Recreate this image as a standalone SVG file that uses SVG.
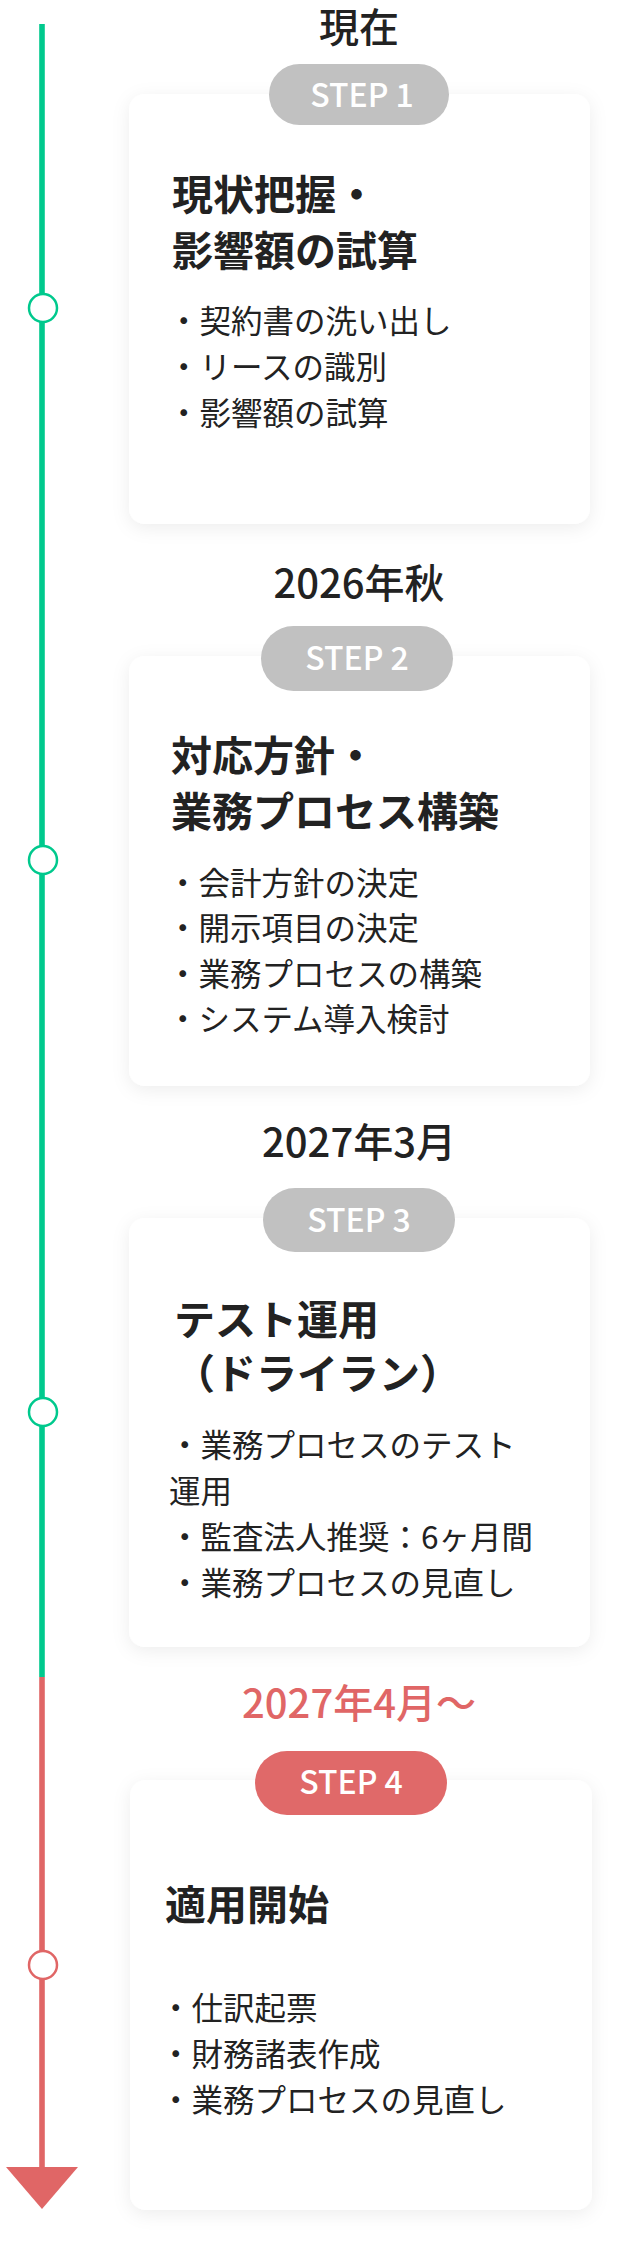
<svg xmlns="http://www.w3.org/2000/svg" width="625" height="2245" viewBox="0 0 625 2245">
<defs>
<filter id="sh" x="-10%" y="-10%" width="120%" height="120%"><feDropShadow dx="0" dy="4" stdDeviation="9" flood-color="#000" flood-opacity="0.07"/></filter>
</defs>
<style>
text{font-family:"Noto Sans CJK JP","Noto Sans",sans-serif;fill:#222}
.date{font-size:40px;font-weight:500;text-anchor:middle}
.pill{font-size:32px;font-weight:500;fill:#fff;text-anchor:middle}
.title{font-size:41px;font-weight:700}
.item{font-size:31.5px}
.card{fill:#fff;filter:url(#sh)}
.dot{fill:#fff;stroke-width:2.5}
</style>
<rect width="625" height="2245" fill="#fff"/>
<g id="connectors">
<line x1="42" y1="24" x2="42" y2="1677" stroke="#00C98D" stroke-width="5.6"/>
<line x1="42" y1="1677" x2="42" y2="2170" stroke="#E06666" stroke-width="5.6"/>
<polygon points="6,2167 78,2167 42,2209" fill="#E06666"/>
<circle class="dot" cx="43" cy="308" r="14" stroke="#00C98D"/>
<circle class="dot" cx="43" cy="860" r="14" stroke="#00C98D"/>
<circle class="dot" cx="43" cy="1412" r="14" stroke="#00C98D"/>
<circle class="dot" cx="43" cy="1965" r="14" stroke="#E06666"/>
</g>
<g id="step1">
<text class="date" x="359" y="42">現在</text>
<rect class="card" x="129" y="94" width="461" height="430" rx="16"/>
<rect x="269" y="64" width="180" height="61" rx="30.5" fill="#C1C1C1"/>
<text class="pill" x="362" y="107">STEP 1</text>
<text class="title" x="172" y="210">現状把握・</text>
<text class="title" x="172" y="266">影響額の試算</text>
<text class="item" x="168" y="333">・契約書の洗い出し</text>
<text class="item" x="168" y="379">・リースの識別</text>
<text class="item" x="168" y="425">・影響額の試算</text>
</g>
<g id="step2">
<text class="date" x="359" y="598">2026年秋</text>
<rect class="card" x="129" y="656" width="461" height="430" rx="16"/>
<rect x="261" y="626" width="192" height="65" rx="32.5" fill="#C1C1C1"/>
<text class="pill" x="357" y="670">STEP 2</text>
<text class="title" x="171" y="771">対応方針・</text>
<text class="title" x="171" y="827">業務プロセス構築</text>
<text class="item" x="167" y="895">・会計方針の決定</text>
<text class="item" x="167" y="940">・開示項目の決定</text>
<text class="item" x="167" y="986">・業務プロセスの構築</text>
<text class="item" x="167" y="1031">・システム導入検討</text>
</g>
<g id="step3">
<text class="date" x="359" y="1157">2027年3月</text>
<rect class="card" x="129" y="1218" width="461" height="429" rx="16"/>
<rect x="263" y="1188" width="192" height="64" rx="32" fill="#C1C1C1"/>
<text class="pill" x="359" y="1232">STEP 3</text>
<text class="title" x="174" y="1335">テスト運用</text>
<text class="title" x="174" y="1389">（ドライラン）</text>
<text class="item" x="169" y="1457">・業務プロセスのテスト</text>
<text class="item" x="169" y="1503">運用</text>
<text class="item" x="169" y="1549">・監査法人推奨：6ヶ月間</text>
<text class="item" x="169" y="1595">・業務プロセスの見直し</text>
</g>
<g id="step4">
<text class="date" x="359" y="1718" style="fill:#E06666">2027年4月〜</text>
<rect class="card" x="130" y="1780" width="462" height="430" rx="16"/>
<rect x="255" y="1751" width="192" height="64" rx="32" fill="#E06969"/>
<text class="pill" x="351" y="1794">STEP 4</text>
<text class="title" x="165" y="1920">適用開始</text>
<text class="item" x="160" y="2020">・仕訳起票</text>
<text class="item" x="160" y="2066">・財務諸表作成</text>
<text class="item" x="160" y="2112">・業務プロセスの見直し</text>
</g>
</svg>
